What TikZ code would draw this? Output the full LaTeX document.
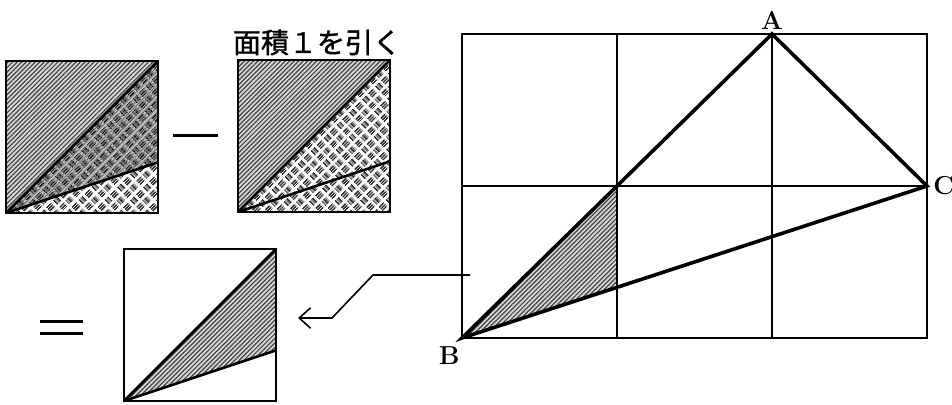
\documentclass[tikz,border=0pt]{standalone}
\usepackage{fontspec}
\newfontfamily\jpfont{Noto Sans CJK JP}[FakeBold=1.3]
\usetikzlibrary{arrows.meta,patterns,patterns.meta,positioning}

\tikzdeclarepattern{
  name=basket,
  type=uncolored,
  bounding box={(0,0) and (9pt,9pt)},
  tile size={(9pt,9pt)},
  tile transformation={rotate=45},
  code={
    \pgfsetlinewidth{0.75pt}
    \foreach \s in {1.15,2.25,3.35} {
      \draw (0.7pt,\s pt) -- (3.8pt,\s pt);
      \draw (5.2pt,\s pt+4.5pt) -- (8.3pt,\s pt+4.5pt);
      \draw (\s pt+4.5pt,0.7pt) -- (\s pt+4.5pt,3.8pt);
      \draw (\s pt,5.2pt) -- (\s pt,8.3pt);
    }
  }
}

\begin{document}
\begin{tikzpicture}[x=0.5pt, y=-0.5pt,
  frame/.style={line width=0.9pt},
  cut/.style={line width=1.3pt},
  side/.style={line width=1.8pt},
  hatch/.style={fill=gray!30, postaction={pattern={Lines[angle=45,distance=1.6pt,line width=0.6pt]}, pattern color=black!75}},
  weave/.style={fill=white, postaction={pattern=basket, pattern color=black!80}},
  darkweave/.style={fill=gray!50, postaction={pattern=basket, pattern color=black!90}, postaction={pattern={Lines[angle=45,distance=1.6pt,line width=0.5pt]}, pattern color=black!55}},
  opsign/.style={line width=1.5pt},
  pointlabel/.style={font=\fontsize{13}{13}\selectfont\bfseries, inner sep=1pt},
  link/.style={-{Straight Barb[length=2mm, width=3.6mm]}, line width=0.8pt}
]
\useasboundingbox (0,0) rectangle (952,405);

% first square
\begin{scope}[shift={(6,213)}, x=76pt, y=76pt]
  \coordinate (bl1) at (0,0);
  \coordinate (tr1) at (1,1);
  \coordinate (k1) at (1,1/3);
  \fill[hatch] (bl1) -- (tr1) -- (0,1) -- cycle;
  \fill[darkweave] (bl1) -- (tr1) -- (k1) -- cycle;
  \fill[weave] (bl1) -- (k1) -- (1,0) -- cycle;
  \draw[cut] (bl1) -- (tr1);
  \draw[cut] (bl1) -- (k1);
  \draw[frame] (bl1) rectangle (tr1);
\end{scope}

% minus
\coordinate (m1) at (173,136);
\coordinate (m2) at (218,136);
\draw[opsign] (m1) -- (m2);

% second square
\begin{scope}[shift={(238,212)}, x=76pt, y=76pt]
  \coordinate (bl2) at (0,0);
  \coordinate (tr2) at (1,1);
  \coordinate (k2) at (1,1/3);
  \fill[hatch] (bl2) -- (tr2) -- (0,1) -- cycle;
  \fill[weave] (bl2) -- (tr2) -- (1,0) -- cycle;
  \draw[cut] (bl2) -- (tr2);
  \draw[cut] (bl2) -- (k2);
  \draw[frame] (bl2) rectangle (tr2);
  \node[font=\jpfont\fontsize{14}{14}\selectfont, anchor=south, inner sep=1pt] (minus1) at (0.52,1.015) {面積１を引く};
\end{scope}

% equals
\coordinate (e1) at (40,322);
\coordinate (e2) at (83,322);
\coordinate (e3) at (40,334);
\coordinate (e4) at (83,334);
\draw[opsign] (e1) -- (e2);
\draw[opsign] (e3) -- (e4);

% result square
\begin{scope}[shift={(124,401)}, x=76pt, y=76pt]
  \coordinate (bl3) at (0,0);
  \coordinate (tr3) at (1,1);
  \coordinate (k3) at (1,1/3);
  \fill[hatch] (bl3) -- (tr3) -- (k3) -- cycle;
  \draw[cut] (bl3) -- (tr3);
  \draw[cut] (bl3) -- (k3);
  \draw[frame] (bl3) rectangle (tr3);
\end{scope}

% grid with triangle ABC
\begin{scope}[shift={(462,338)}, x=77.5pt, y=76pt]
  \coordinate (B) at (0,0);
  \coordinate (A) at (2,2);
  \coordinate (C) at (3,1);
  \coordinate (P) at (1,1);
  \coordinate (Q) at (1,1/3);
  \fill[hatch] (B) -- (P) -- (Q) -- cycle;
  \draw[frame] (B) rectangle (3,2);
  \draw[frame] (1,0) -- (1,2) (2,0) -- (A) (0,1) -- (C);
  \draw[side] (B) -- (A) -- (C) -- cycle;
  \node[pointlabel, above=1pt of A] (labA) {A};
  \node[pointlabel, right=2pt of C] (labC) {C};
  \node[pointlabel, below left=3pt and 0pt of B] (labB) {B};
\end{scope}

% pointer to the result
\coordinate (pin) at (470,275);
\coordinate (bend1) at (373,275);
\coordinate (bend2) at (332,318);
\coordinate (tip) at (298,318);
\draw[link] (pin) -- (bend1) -- (bend2) -- (tip);
\end{tikzpicture}
\end{document}
